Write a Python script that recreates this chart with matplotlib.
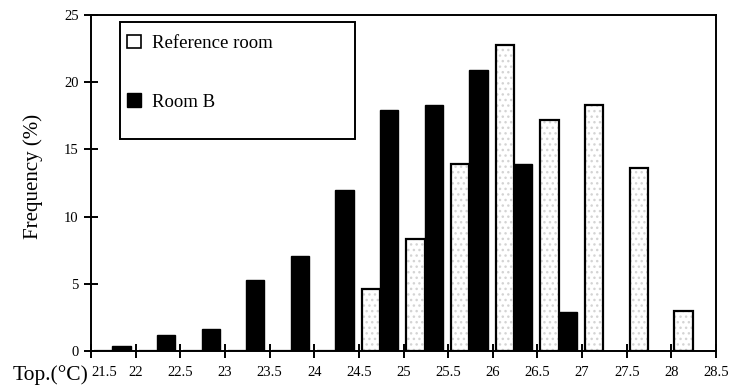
import numpy as np
import matplotlib
matplotlib.use("Agg")
import matplotlib.pyplot as plt
from matplotlib.patches import Patch, Rectangle

# lower edge of each 0.5 degC operative temperature class
bin_lo = [21.5, 22.0, 22.5, 23.0, 23.5, 24.0, 24.5,
          25.0, 25.5, 26.0, 26.5, 27.0, 27.5, 28.0]

reference_room = [0, 0, 0, 0, 0, 0, 4.6,
                  8.3, 13.9, 22.8, 17.2, 18.3, 13.6, 3.0]
room_b = [0.4, 1.2, 1.6, 5.3, 7.1, 12.0, 17.9,
          18.3, 20.9, 13.9, 2.9, 0, 0, 0]

xticks = [21.5, 22, 22.5, 23, 23.5, 24, 24.5, 25,
          25.5, 26, 26.5, 27, 27.5, 28, 28.5]
xtick_labels = ["21.5", "22", "22.5", "23", "23.5", "24", "24.5", "25",
                "25.5", "26", "26.5", "27", "27.5", "28", "28.5"]
yticks = [0, 5, 10, 15, 20, 25]

plt.rcParams["font.family"] = ["Liberation Serif", "DejaVu Serif"]

fig = plt.figure(figsize=(7.31, 3.86), dpi=100)
ax = fig.add_axes([0.1245, 0.091, 0.855, 0.870])

x = np.array(bin_lo)
width = 0.205

# faint stipple inside the outlined reference bars
ax.bar(x + 0.135, reference_room, width, color="white",
       edgecolor="#d4d4d4", hatch="...", linewidth=0, zorder=2)
ax.bar(x + 0.135, reference_room, width, fill=False,
       edgecolor="black", linewidth=1.6, zorder=3)
ax.bar(x + 0.34, room_b, width, color="black",
       edgecolor="black", linewidth=1.0, zorder=3)

ax.set_xlim(21.5, 28.5)
ax.set_ylim(0, 25)

ax.set_xticks(xticks)
ax.set_xticklabels(xtick_labels)
ax.set_yticks(yticks)

ax.tick_params(direction="inout", length=10, width=1.4, labelsize=10.5)
ax.tick_params(axis="x", pad=6)
ax.tick_params(axis="y", pad=4)
ax.get_xticklabels()[0].set_horizontalalignment("left")

for side in ["left", "right", "top", "bottom"]:
    ax.spines[side].set_linewidth(1.4)

ax.set_ylabel("Frequency (%)", fontsize=15)
ax.yaxis.set_label_coords(-0.077, 0.52)

ax.text(-0.125, -0.072, "Top.(\u00b0C)", transform=ax.transAxes,
        fontsize=15.5, ha="left", va="center")

# legend box is drawn separately so it can be taller than its entries
ax.add_patch(Rectangle((0.0464, 0.631), 0.376, 0.348,
                       transform=ax.transAxes, fill=False,
                       edgecolor="black", linewidth=1.4, zorder=5))

handles = [
    Patch(facecolor="white", edgecolor="black", linewidth=1.2,
          label="Reference room"),
    Patch(facecolor="black", edgecolor="black", label="Room B"),
]
ax.legend(handles=handles, loc="upper left",
          bbox_to_anchor=(0.0576, 0.942), fontsize=13.5,
          frameon=False, handlelength=0.75, handleheight=0.75,
          handletextpad=0.6, labelspacing=2.2, borderpad=0,
          borderaxespad=0)

fig.savefig("out.png", dpi=100)
